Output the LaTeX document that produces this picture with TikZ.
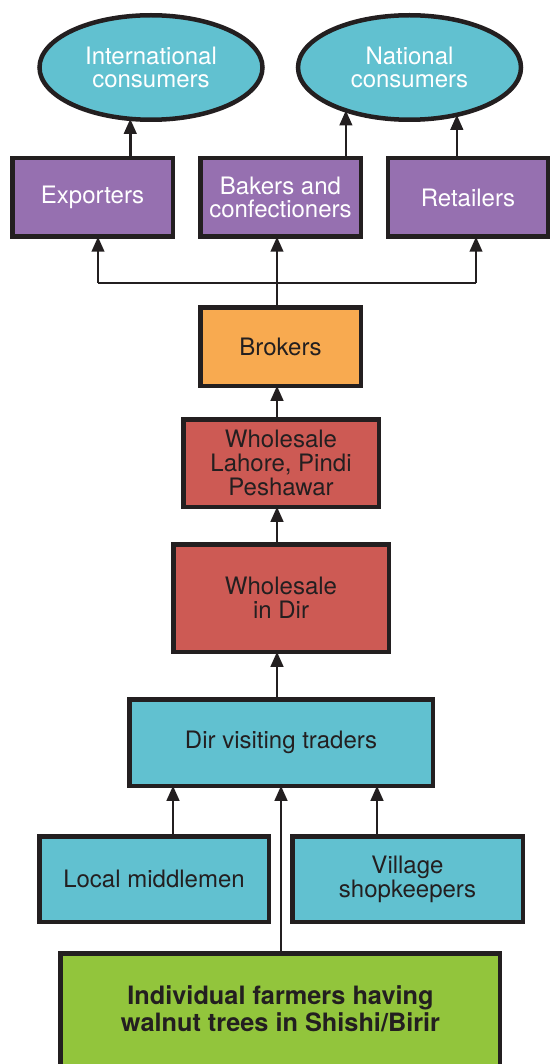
\documentclass[tikz,border=0pt]{standalone}
\usepackage{fontspec}
\setmainfont{TeX Gyre Heros}
\usetikzlibrary{shapes.geometric, arrows.meta}
\definecolor{ink}{RGB}{35,31,32}
\definecolor{sky}{RGB}{97,193,208}
\definecolor{plum}{RGB}{150,112,176}
\definecolor{amber}{RGB}{248,170,80}
\definecolor{brick}{RGB}{205,90,84}
\definecolor{leaf}{RGB}{146,197,60}
\begin{document}
\begin{tikzpicture}[x=1pt,y=-1pt,
  box/.style={draw=ink, line width=4.5pt, inner sep=0pt, outer sep=0pt, align=center,
    text=ink, font=\fontsize{24}{23.8}\selectfont},
  oval/.style={ellipse, draw=ink, line width=4.5pt, inner sep=0pt, outer sep=0pt, fill=sky,
    text=white, align=center, minimum width=223pt, minimum height=104.5pt,
    font=\fontsize{24}{23.8}\selectfont},
  arr/.style={draw=ink, line width=2.6pt, -{Triangle[length=15pt,width=12.5pt]}},
  link/.style={draw=ink, line width=2.6pt}]
\useasboundingbox (0,0) rectangle (550,1064);

\node (intl) [oval] at (151,67.5) {International\\consumers};
\node (nat) [oval] at (409.5,67.5) {National\\consumers};

\node (exp) [box, fill=plum, text=white, minimum width=160.5pt, minimum height=78.5pt] at (92.5,197.5) {Exporters};
\node (bak) [box, fill=plum, text=white, minimum width=160.5pt, minimum height=78.5pt] at (280.5,197.5) {Bakers and\\confectioners};
\node (ret) [box, fill=plum, text=white, minimum width=160pt, minimum height=78.5pt] at (468,197.5) {Retailers};

\node (brk) [box, fill=amber, minimum width=160.5pt, minimum height=78.5pt] at (280.5,346.5) {Brokers};
\node (whl) [box, fill=brick, minimum width=195.5pt, minimum height=87.5pt] at (281,463) {Wholesale\\Lahore, Pindi\\Peshawar};
\node (whd) [box, fill=brick, minimum width=215.5pt, minimum height=107.5pt] at (281,598) {Wholesale\\in Dir};
\node (dir) [box, fill=sky, minimum width=303.5pt, minimum height=86.5pt] at (281,742.5) {Dir visiting traders};
\node (loc) [box, fill=sky, minimum width=229.5pt, minimum height=85.5pt] at (154,879) {Local middlemen};
\node (vil) [box, fill=sky, minimum width=230.5pt, minimum height=85.5pt] at (407.5,879) {Village\\shopkeepers};
\node (frm) [box, fill=leaf, minimum width=439.5pt, minimum height=133.5pt] at (280,1020) {};
\node (frmtxt) [align=center, text=ink, inner sep=0pt, font=\bfseries\fontsize{25.3}{26.8}\selectfont] at (280.5,1009) {Individual farmers having\\walnut trees in Shishi/Birir};

\coordinate (xt) at (277,0);
\coordinate (xf) at (281,0);
\coordinate (xl) at (173,0);
\coordinate (xv) at (377,0);
\coordinate (jl) at (98,283);
\coordinate (jr) at (476,283);

\draw[arr] (intl.248.7 |- exp.north) -- (intl.248.7);
\draw[arr] (nat.214.4 |- bak.north) -- (nat.214.4);
\draw[arr] (nat.315.1 |- ret.north) -- (nat.315.1);

\draw[link] (jl) -- (jr);
\draw[arr] (jl) -- (exp.south -| jl);
\draw[arr] (jr) -- (ret.south -| jr);
\draw[arr] (brk.north -| xt) -- (bak.south -| xt);

\draw[arr] (whl.north -| xt) -- (brk.south -| xt);
\draw[arr] (whd.north -| xt) -- (whl.south -| xt);
\draw[arr] (dir.north -| xt) -- (whd.south -| xt);

\draw[arr] (loc.north -| xl) -- (dir.south -| xl);
\draw[arr] (vil.north -| xv) -- (dir.south -| xv);
\draw[arr] (frm.north -| xf) -- (dir.south -| xf);
\end{tikzpicture}
\end{document}
